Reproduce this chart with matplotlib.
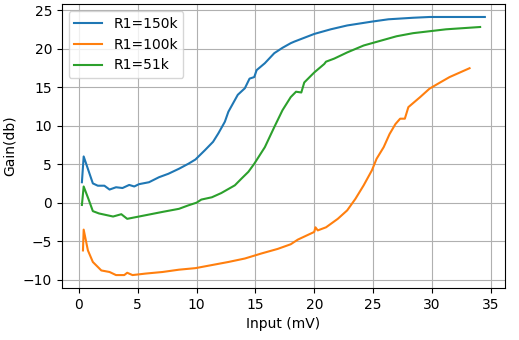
import numpy as np
import matplotlib
matplotlib.use("Agg")
import matplotlib.pyplot as plt

# --- R1=150k
x_150 = [0.25, 0.4, 0.8, 1.18, 1.6, 2.16, 2.6, 3.15, 3.7, 4.27, 4.7, 5.1, 5.95, 6.8, 7.6, 8.5,
         9.3, 9.9, 10.7, 11.4, 11.85, 12.4, 12.7, 13.1, 13.5, 14.1, 14.5, 14.9, 15.1, 15.8,
         16.6, 17.3, 18.0, 18.3, 20.0, 21.4, 22.8, 24.9, 26.3, 28.4, 29.8, 31.2, 34.5]
y_150 = [2.65, 6.0, 4.2, 2.5, 2.2, 2.2, 1.7, 2.0, 1.9, 2.3, 2.1, 2.4, 2.65, 3.3, 3.75, 4.4,
         5.05, 5.6, 6.8, 7.9, 9.0, 10.5, 11.8, 12.9, 14.0, 14.85, 16.1, 16.3, 17.2, 18.1,
         19.4, 20.1, 20.7, 20.9, 21.9, 22.5, 23.0, 23.5, 23.8, 24.0, 24.1, 24.1, 24.1]

# --- R1=100k
x_100 = [0.34, 0.4, 0.76, 1.18, 1.9, 2.6, 3.15, 3.85, 4.1, 4.55, 5.7, 7.1, 8.5, 9.9, 11.3,
         12.7, 14.1, 15.5, 16.9, 18.0, 18.6, 20.0, 20.1, 20.3, 21.0, 22.0, 22.8, 23.5, 24.2,
         24.9, 25.3, 25.9, 26.4, 26.9, 27.3, 27.7, 28.0, 29.0, 29.8, 30.7, 31.5, 33.2]
y_100 = [-6.2, -3.5, -6.2, -7.7, -8.8, -9.0, -9.4, -9.4, -9.1, -9.4, -9.2, -9.0, -8.7, -8.5, -8.1,
         -7.7, -7.25, -6.6, -6.0, -5.4, -4.8, -3.8, -3.2, -3.6, -3.2, -2.1, -1.0, 0.5, 2.25,
         4.2, 5.7, 7.2, 8.9, 10.2, 10.9, 10.9, 12.4, 13.7, 14.8, 15.6, 16.3, 17.45]

# --- R1=51k
x_51 = [0.25, 0.4, 0.8, 1.18, 1.7, 2.9, 3.6, 4.1, 5.1, 7.1, 8.5, 9.3, 10.0, 10.4, 11.3,
        12.1, 13.25, 13.8, 14.4, 14.9, 15.8, 16.6, 17.3, 18.0, 18.45, 18.9, 19.15, 20.0,
        20.85, 21.0, 21.7, 22.8, 24.2, 25.6, 27.0, 28.4, 29.8, 31.2, 34.1]
y_51 = [-0.3, 2.1, 0.5, -1.1, -1.4, -1.8, -1.5, -2.1, -1.8, -1.2, -0.8, -0.35, 0.0, 0.4, 0.7,
        1.25, 2.25, 3.1, 4.0, 5.05, 7.2, 9.8, 12.0, 13.7, 14.4, 14.3, 15.6, 16.9,
        18.0, 18.3, 18.7, 19.5, 20.4, 21.0, 21.6, 22.0, 22.25, 22.5, 22.8]

fig = plt.figure(figsize=(5.19, 3.40), dpi=100)
ax = fig.add_axes([0.119, 0.153, 0.854, 0.835])

ax.plot(x_150, y_150, label="R1=150k")
ax.plot(x_100, y_100, label="R1=100k")
ax.plot(x_51, y_51, label="R1=51k")

ax.set_xlabel("Input (mV)")
ax.set_ylabel("Gain(db)")
ax.grid(True)
ax.legend(loc="upper left")

fig.savefig("out.png", dpi=100)
